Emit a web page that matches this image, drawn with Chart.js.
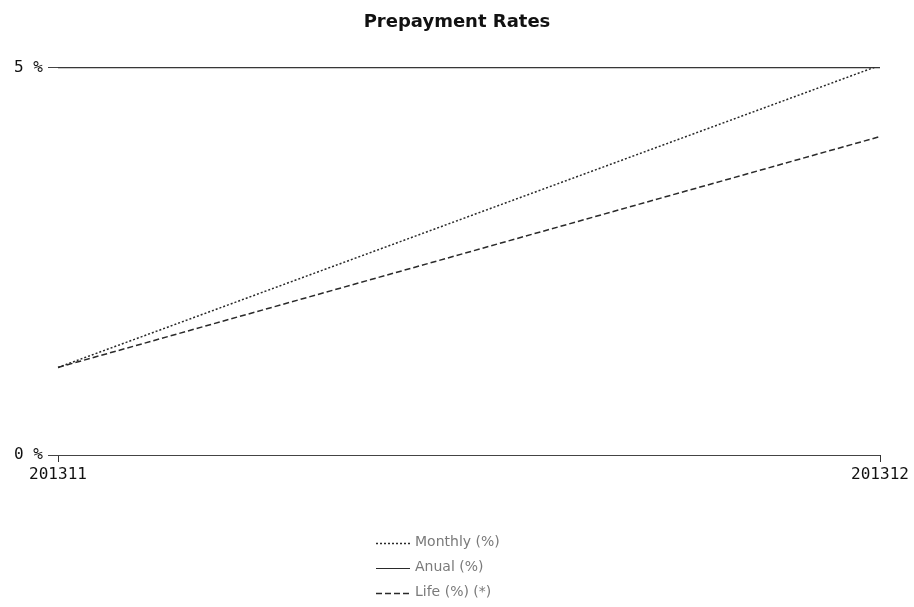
<!DOCTYPE html>
<html>
<head>
<meta charset="utf-8">
<script src="https://cdn.jsdelivr.net/npm/chart.js@4/dist/chart.umd.min.js"></script>
<style>
  html, body { margin: 0; padding: 0; background: #fff; }
  #wrap { width: 914px; height: 607px; }
</style>
</head>
<body>
<div id="wrap"><canvas id="chart" width="914" height="607"></canvas></div>
<script>
// Periods (YYYYMM) and prepayment rates in percent
const periods = ['201311', '201312'];
const monthly = [1.13, 5.03];
const anual = [5.0, 5.0];
const life = [1.13, 4.11];
const yTicks = [0, 5];

const seriesNames = ['Monthly (%)', 'Anual (%)', 'Life (%) (*)'];

// Stacked legend under the plot: one row per series with its line sample
const stackedLegend = {
  id: 'stackedLegend',
  afterDraw(chart) {
    const ctx = chart.ctx;
    const rowY = [543, 568, 593];
    chart.data.datasets.forEach((ds, i) => {
      const y = rowY[i];
      ctx.save();
      ctx.strokeStyle = ds.borderColor;
      ctx.lineWidth = ds.borderWidth;
      ctx.setLineDash(ds.borderDash || []);
      ctx.beginPath();
      ctx.moveTo(376, y + 0.5);
      ctx.lineTo(410, y + 0.5);
      ctx.stroke();
      ctx.setLineDash([]);
      ctx.fillStyle = '#7a7a7a';
      ctx.font = '14px "DejaVu Sans", sans-serif';
      ctx.textBaseline = 'middle';
      ctx.textAlign = 'left';
      ctx.fillText(ds.label, 415, y - 1);
      ctx.restore();
    });
  }
};

new Chart(document.getElementById('chart'), {
  type: 'line',
  data: {
    labels: periods,
    datasets: [
      { label: seriesNames[0], data: monthly, borderColor: '#2a2a2a', borderWidth: 1.5, borderDash: [2, 2], pointRadius: 0, tension: 0, fill: false },
      { label: seriesNames[1], data: anual, borderColor: '#2a2a2a', borderWidth: 1.2, borderDash: [], pointRadius: 0, tension: 0, fill: false },
      { label: seriesNames[2], data: life, borderColor: '#2a2a2a', borderWidth: 1.5, borderDash: [6, 3], pointRadius: 0, tension: 0, fill: false }
    ]
  },
  options: {
    responsive: false,
    animation: false,
    layout: { padding: 0 },
    plugins: {
      legend: { display: false },
      tooltip: { enabled: false },
      title: {
        display: true,
        text: 'Prepayment Rates',
        color: '#111',
        font: { family: '"DejaVu Sans", sans-serif', size: 18, weight: 'bold' },
        padding: { top: 12, bottom: 34 }
      }
    },
    scales: {
      x: {
        offset: false,
        border: { display: false },
        grid: { drawOnChartArea: false, drawTicks: true, tickLength: 7, color: '#333' },
        ticks: {
          color: '#111',
          font: { family: '"DejaVu Sans Mono", monospace', size: 16 },
          padding: 3,
          maxRotation: 0,
          autoSkip: false
        },
        afterFit(scale) { scale.height = 152; }
      },
      y: {
        min: 0,
        max: 5,
        afterBuildTicks(scale) { scale.ticks = yTicks.map(v => ({ value: v })); },
        border: { display: false },
        grid: { color: '#444', lineWidth: 1, tickLength: 10, drawTicks: true },
        ticks: {
          color: '#111',
          font: { family: '"DejaVu Sans Mono", monospace', size: 16 },
          padding: 5,
          callback: v => v + ' %'
        },
        afterFit(scale) { scale.width = 58; }
      },
      // empty right-hand margin for the last period label
      yRight: {
        position: 'right',
        min: 0,
        max: 5,
        border: { display: false },
        grid: { display: false },
        ticks: { display: false },
        afterFit(scale) { scale.width = 34; }
      }
    }
  },
  plugins: [stackedLegend]
});
</script>
</body>
</html>
